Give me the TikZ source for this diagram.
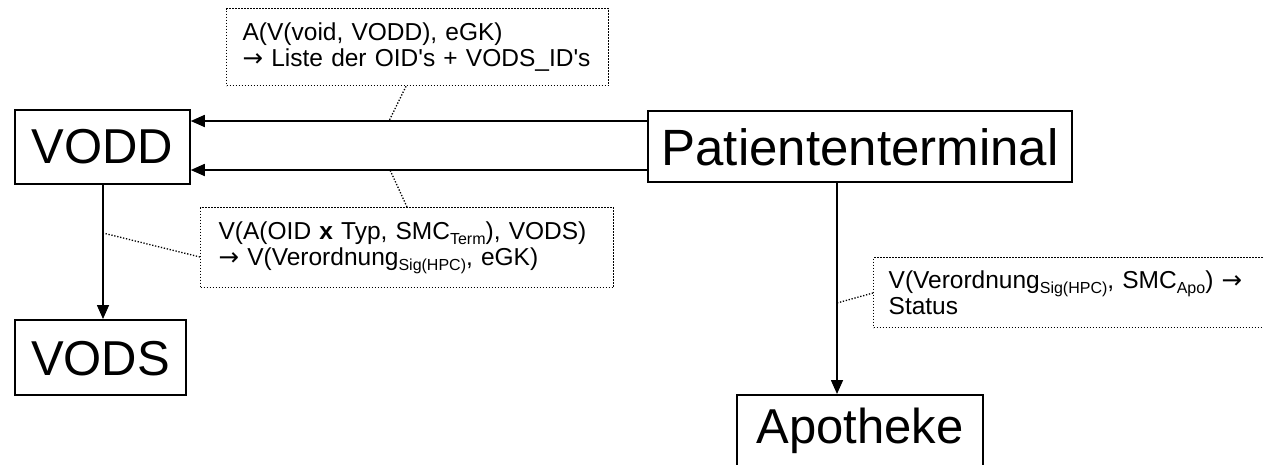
\documentclass[tikz,border=0pt]{standalone}
\usepackage{fontspec}
\setmainfont{Liberation Sans}[Ligatures=TeXOff]
\newfontfamily\symfont{DejaVu Sans}
\usetikzlibrary{arrows.meta,calc}
\newcommand{\lowtxt}[1]{\raisebox{-5pt}{\fontsize{16}{16}\selectfont #1}}
\newcommand{\rarr}{{\symfont →}}
\tikzset{
  bigbox/.style={draw, line width=1.5pt, inner ysep=0pt, inner xsep=0pt, font=\fontsize{49}{50}\selectfont},
  lblbox/.style={draw, line width=1.3pt, dash pattern=on 1.3pt off 1.7pt, anchor=north west, inner ysep=0pt, align=left, font=\fontsize{24.5}{26.5}\selectfont},
  arr/.style={line width=1.6pt, -{Triangle[length=14pt,width=12pt]}},
  dotline/.style={line width=1.3pt, dash pattern=on 1.3pt off 1.7pt},
}
\begin{document}
\begin{tikzpicture}[x=1pt,y=-1pt]
\useasboundingbox (0,0) rectangle (1263,464);
\clip (0,0) rectangle (1263,464);
% main boxes (anchor north, text height/depth fix top and bottom)
\node[bigbox, anchor=north, minimum width=175pt, text height=54pt, text depth=20pt] (VODD) at (102.5,109) {VODD};
\node[bigbox, anchor=north, minimum width=171pt, text height=56pt, text depth=19pt] (VODS) at (100.5,319) {VODS};
\node[bigbox, anchor=north, minimum width=424pt, text height=55pt, text depth=16pt, font=\fontsize{51}{52}\selectfont] (PT) at (860,110) {Patiententerminal};
\node[bigbox, anchor=north, minimum width=246pt, text height=49pt, text depth=31pt] (APO) at (860,394) {Apotheke};
% label boxes
\node[lblbox, minimum width=382pt, minimum height=77pt, inner xsep=16pt, text width=350pt] (L1) at (226,8)
  {A(V(void, VODD), eGK)\\\rarr\ Liste der OID's + VODS\_ID's};
\node[lblbox, minimum width=413pt, minimum height=80pt, inner xsep=18pt, text width=377pt] (L2) at (200,207)
  {V(A(OID \textbf{x} Typ, SMC\lowtxt{Term}), VODS)\\\rarr\ V(Verordnung\lowtxt{Sig(HPC)}, eGK)};
\node[lblbox, minimum width=440pt, minimum height=70pt, inner xsep=15pt, text width=410pt] (L3) at (873,257)
  {V(Verordnung\lowtxt{Sig(HPC)}, SMC\lowtxt{Apo}) \rarr\\Status};
% helper coordinates
\coordinate (y1) at (0,121);
\coordinate (y2) at (0,170);
\coordinate (xa) at (837,0);
\coordinate (c1) at (389,121);
\coordinate (c2) at (390,170);
\coordinate (c3) at (103,233);
\coordinate (c4) at (837,303);
% connectors
\draw[arr] (PT.west |- y1) -- (VODD.east |- y1);
\draw[arr] (PT.west |- y2) -- (VODD.east |- y2);
\draw[arr] (VODD.south -| c3) -- (VODS.north -| c3);
\draw[arr] (PT.south -| xa) -- (APO.north -| xa);
% dotted callout lines
\draw[dotline] (L1.south west) ++(180,0) coordinate (d1) -- (c1);
\draw[dotline] (L2.north west) ++(207,0) coordinate (d2) -- (c2);
\draw[dotline] (L2.north west) ++(0,50) coordinate (d3) -- (c3);
\draw[dotline] (L3.north west) ++(0,36) coordinate (d4) -- (c4);
\end{tikzpicture}
\end{document}
